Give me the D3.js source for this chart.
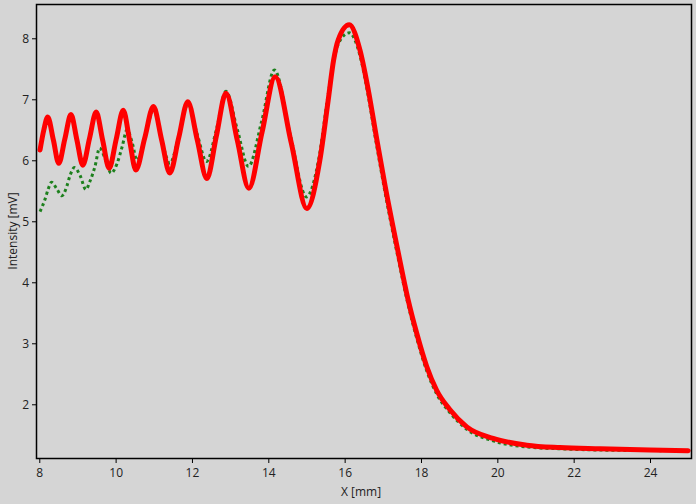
<!DOCTYPE html>
<html><head><meta charset="utf-8">
<script src="https://cdn.jsdelivr.net/npm/d3@7"></script>
<style>
html,body{margin:0;padding:0;background:#d5d5d5;}
svg{display:block;font-family:"Open Sans",sans-serif;}
</style></head>
<body>
<svg id="chart" width="696" height="504"></svg>
<script>
// ---- data ----
const redX = [8.02,8.12,8.22,8.37,8.51,8.67,8.83,8.985,9.14,9.315,9.49,9.66,9.83,10.015,10.20,10.365,10.53,10.76,10.99,11.205,11.42,11.655,11.89,12.14,12.39,12.64,12.89,13.19,13.49,13.835,14.18,14.60,15.01,15.35,15.57,15.71,15.83,16.12,16.40,16.62,16.84,17.06,17.40,17.66,17.89,18.15,18.41,18.76,19.20,19.89,20.77,21.64,22.69,24.0,25.0];
const redY = [6.17,6.50,6.71,6.33,5.95,6.35,6.75,6.335,5.92,6.355,6.79,6.33,5.87,6.345,6.82,6.33,5.84,6.36,6.88,6.335,5.79,6.375,6.96,6.33,5.70,6.40,7.10,6.32,5.54,6.455,7.37,6.29,5.21,6.00,6.99,7.64,7.97,8.22,7.81,7.15,6.35,5.58,4.50,3.72,3.16,2.62,2.23,1.91,1.63,1.44,1.33,1.29,1.27,1.25,1.24];
const greenX = [8.02,8.15,8.24,8.32,8.46,8.59,8.72,8.80,8.92,9.07,9.22,9.33,9.46,9.58,9.74,9.88,10.04,10.17,10.30,10.43,10.56,10.78,10.99,11.20,11.42,11.66,11.89,12.14,12.38,12.64,12.89,13.19,13.48,13.83,14.16,14.58,15.00,15.33,15.55,15.71,15.85,16.12,16.40,16.62,16.84,17.06,17.40,17.66,17.89,18.15,18.41,18.76,19.20,19.89,20.77,21.64,22.69,24.3];
const greenY = [5.16,5.36,5.54,5.64,5.53,5.42,5.57,5.74,5.88,5.75,5.52,5.66,5.90,6.20,6.00,5.79,5.95,6.22,6.50,6.30,6.00,6.40,6.84,6.35,5.95,6.40,6.92,6.42,5.98,6.50,7.13,6.50,5.90,6.65,7.48,6.40,5.40,6.05,7.00,7.62,7.93,8.09,7.72,7.05,6.24,5.47,4.40,3.64,3.08,2.55,2.17,1.86,1.59,1.40,1.30,1.27,1.25,1.24];
const xTicks = [8,10,12,14,16,18,20,22,24];
const yTicks = [2,3,4,5,6,7,8];
const xLabel = "X [mm]";
const yLabel = "Intensity [mV]";

// ---- layout ----
const W = 696, H = 504;
const m = {left:36, top:4, right:4, bottom:45};
const svg = d3.select("#chart");
const x = d3.scaleLinear().domain([7.914, 25.10]).range([m.left, W - m.right]);
const y = d3.scaleLinear().domain([1.103, 8.562]).range([H - m.bottom, m.top]);

svg.append("rect").attr("width", W).attr("height", H).attr("fill", "#d5d5d5");

svg.append("defs").append("clipPath").attr("id", "clip")
  .append("rect").attr("x", m.left).attr("y", m.top)
  .attr("width", W - m.left - m.right).attr("height", H - m.top - m.bottom);

const line = d3.line().x(d => x(d[0])).y(d => y(d[1])).curve(d3.curveMonotoneX);
const red = redX.map((v, i) => [v, redY[i]]);
const green = greenX.map((v, i) => [v, greenY[i]]);

const g = svg.append("g").attr("clip-path", "url(#clip)");
g.append("path").datum(green).attr("d", line)
  .attr("fill", "none").attr("stroke", "#1d801d").attr("stroke-width", 3)
  .attr("stroke-dasharray", "3,3");
g.append("path").datum(red).attr("d", line)
  .attr("fill", "none").attr("stroke", "#ff0000").attr("stroke-width", 5)
  .attr("stroke-linejoin", "round").attr("stroke-linecap", "round");

// frame
svg.append("rect").attr("x", m.left + 0.5).attr("y", m.top + 0.5)
  .attr("width", W - m.left - m.right - 1).attr("height", H - m.top - m.bottom - 1)
  .attr("fill", "none").attr("stroke", "#000").attr("stroke-width", 1.5);

// axes
const xAxis = svg.append("g").attr("transform", `translate(0,${H - m.bottom})`)
  .call(d3.axisBottom(x).tickValues(xTicks).tickSize(4).tickSizeOuter(0).tickPadding(5).tickFormat(d3.format("d")));
const yAxis = svg.append("g").attr("transform", `translate(${m.left},0)`)
  .call(d3.axisLeft(y).tickValues(yTicks).tickSize(4).tickSizeOuter(0).tickPadding(3).tickFormat(d3.format("d")));
[xAxis, yAxis].forEach(a => {
  a.select(".domain").remove();
  a.selectAll("text").attr("font-family", "'Open Sans', sans-serif").attr("font-size", 12).attr("fill", "#222");
  a.selectAll("line").attr("stroke", "#000");
});

svg.append("text").attr("x", 361).attr("y", 496).attr("text-anchor", "middle")
  .attr("font-size", 12).attr("fill", "#222").text(xLabel);
svg.append("text").attr("transform", "translate(17,231) rotate(-90)").attr("text-anchor", "middle")
  .attr("font-size", 12).attr("fill", "#222").text(yLabel);
</script>
</body></html>
